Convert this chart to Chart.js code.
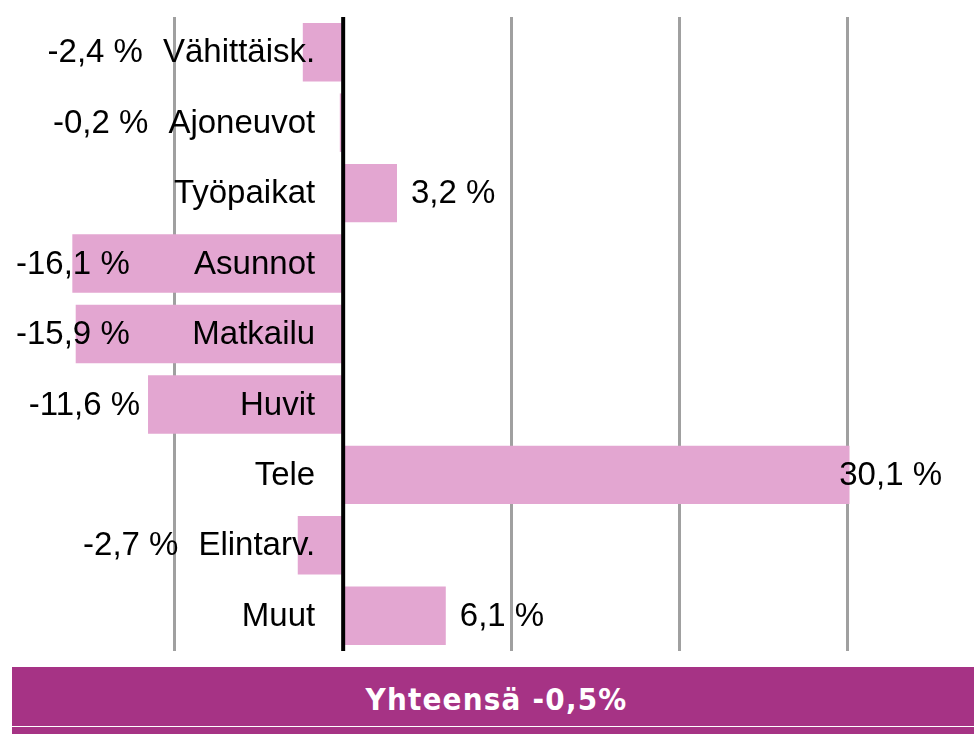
<!DOCTYPE html>
<html>
<head>
<meta charset="utf-8">
<script src="https://cdn.jsdelivr.net/npm/chart.js@4/dist/chart.umd.min.js"></script>
<style>
  html, body { margin: 0; padding: 0; background: #fff; }
  #wrap { position: relative; width: 974px; height: 734px; overflow: hidden; }
  #chart-box { position: absolute; left: 0; top: 0; width: 974px; height: 660px; }
  #total {
    position: absolute; left: 12px; top: 667px; width: 962px; height: 67px;
    background: #A63385; color: #fff;
    font-family: "DejaVu Sans Condensed", "DejaVu Sans", Verdana, sans-serif;
    font-stretch: condensed; font-weight: bold; font-size: 31px; line-height: 1;
    letter-spacing: 1.2px;
  }
  #total span { position: absolute; left: 0; right: 0; top: 17px; text-align: center; padding-left: 7px; }
  #total i { position: absolute; left: 0; right: 0; top: 59px; height: 1px; background: #fff; }
</style>
</head>
<body>
<div id="wrap">
  <div id="chart-box"><canvas id="chart"></canvas></div>
  <div id="total"><span>Yhteensä -0,5%</span><i></i></div>
</div>
<script>
// Muutos edellisestä vuodesta, % (luettu kuvasta)
const categories = ["Vähittäisk.", "Ajoneuvot", "Työpaikat", "Asunnot", "Matkailu", "Huvit", "Tele", "Elintarv.", "Muut"]
const changes    = [-2.4, -0.2, 3.2, -16.1, -15.9, -11.6, 30.1, -2.7, 6.1]

const fmt = (v) => v.toFixed(1).replace(".", ",") + " %"

// category names right-aligned just left of the zero line, values beside the bars
const labelsPlugin = {
  id: "barLabels",
  afterDatasetsDraw(chart) {
    const { ctx, chartArea, scales: { x, y } } = chart
    const zero = x.getPixelForValue(0)
    const W = chart.width

    ctx.save()
    // zero line on top of the bars
    ctx.strokeStyle = "#000"
    ctx.lineWidth = 4
    ctx.beginPath()
    ctx.moveTo(zero, chartArea.top)
    ctx.lineTo(zero, chartArea.bottom)
    ctx.stroke()

    ctx.font = "33px 'Liberation Sans', Arial, sans-serif"
    ctx.fillStyle = "#000"
    ctx.textBaseline = "middle"

    chart.data.labels.forEach((name, i) => {
      const v = chart.data.datasets[0].data[i]
      const cy = y.getPixelForValue(i) + 1
      const nameRight = zero - 28
      ctx.textAlign = "right"
      ctx.fillText(name, nameRight, cy)
      const nameLeft = nameRight - ctx.measureText(name).width

      const txt = fmt(v)
      const tw = ctx.measureText(txt).width
      const end = x.getPixelForValue(v)
      if (v < 0) {
        const right = Math.max(tw + 16, Math.min(end - 8, nameLeft - 20))
        ctx.textAlign = "right"
        ctx.fillText(txt, right, cy)
      } else {
        const left = Math.min(end + 14, W - tw - 32)
        ctx.textAlign = "left"
        ctx.fillText(txt, left, cy)
      }
    })
    ctx.restore()
  }
}

new Chart(document.getElementById("chart"), {
  type: "bar",
  data: {
    labels: categories,
    datasets: [
      {
        data: changes,
        backgroundColor: "#E3A6D1",
        borderWidth: 0,
        categoryPercentage: 1,
        barPercentage: 0.83,
      }
    ]
  },
  options: {
    indexAxis: "y",
    responsive: true,
    maintainAspectRatio: false,
    animation: false,
    layout: { padding: { top: 17, bottom: 9, left: 0, right: 0 } },
    plugins: {
      legend: { display: false },
      tooltip: { enabled: false }
    },
    scales: {
      x: {
        min: -20.4,
        max: 37.5,
        ticks: { display: false, stepSize: 10, includeBounds: false },
        border: { display: false },
        grid: {
          drawTicks: false,
          lineWidth: 3,
          color: (c) => (c.tick && c.tick.value > -15 && c.tick.value !== 0) ? "#A0A0A0" : "rgba(0,0,0,0)"
        }
      },
      y: {
        display: false
      }
    }
  },
  plugins: [labelsPlugin]
})
</script>
</body>
</html>
